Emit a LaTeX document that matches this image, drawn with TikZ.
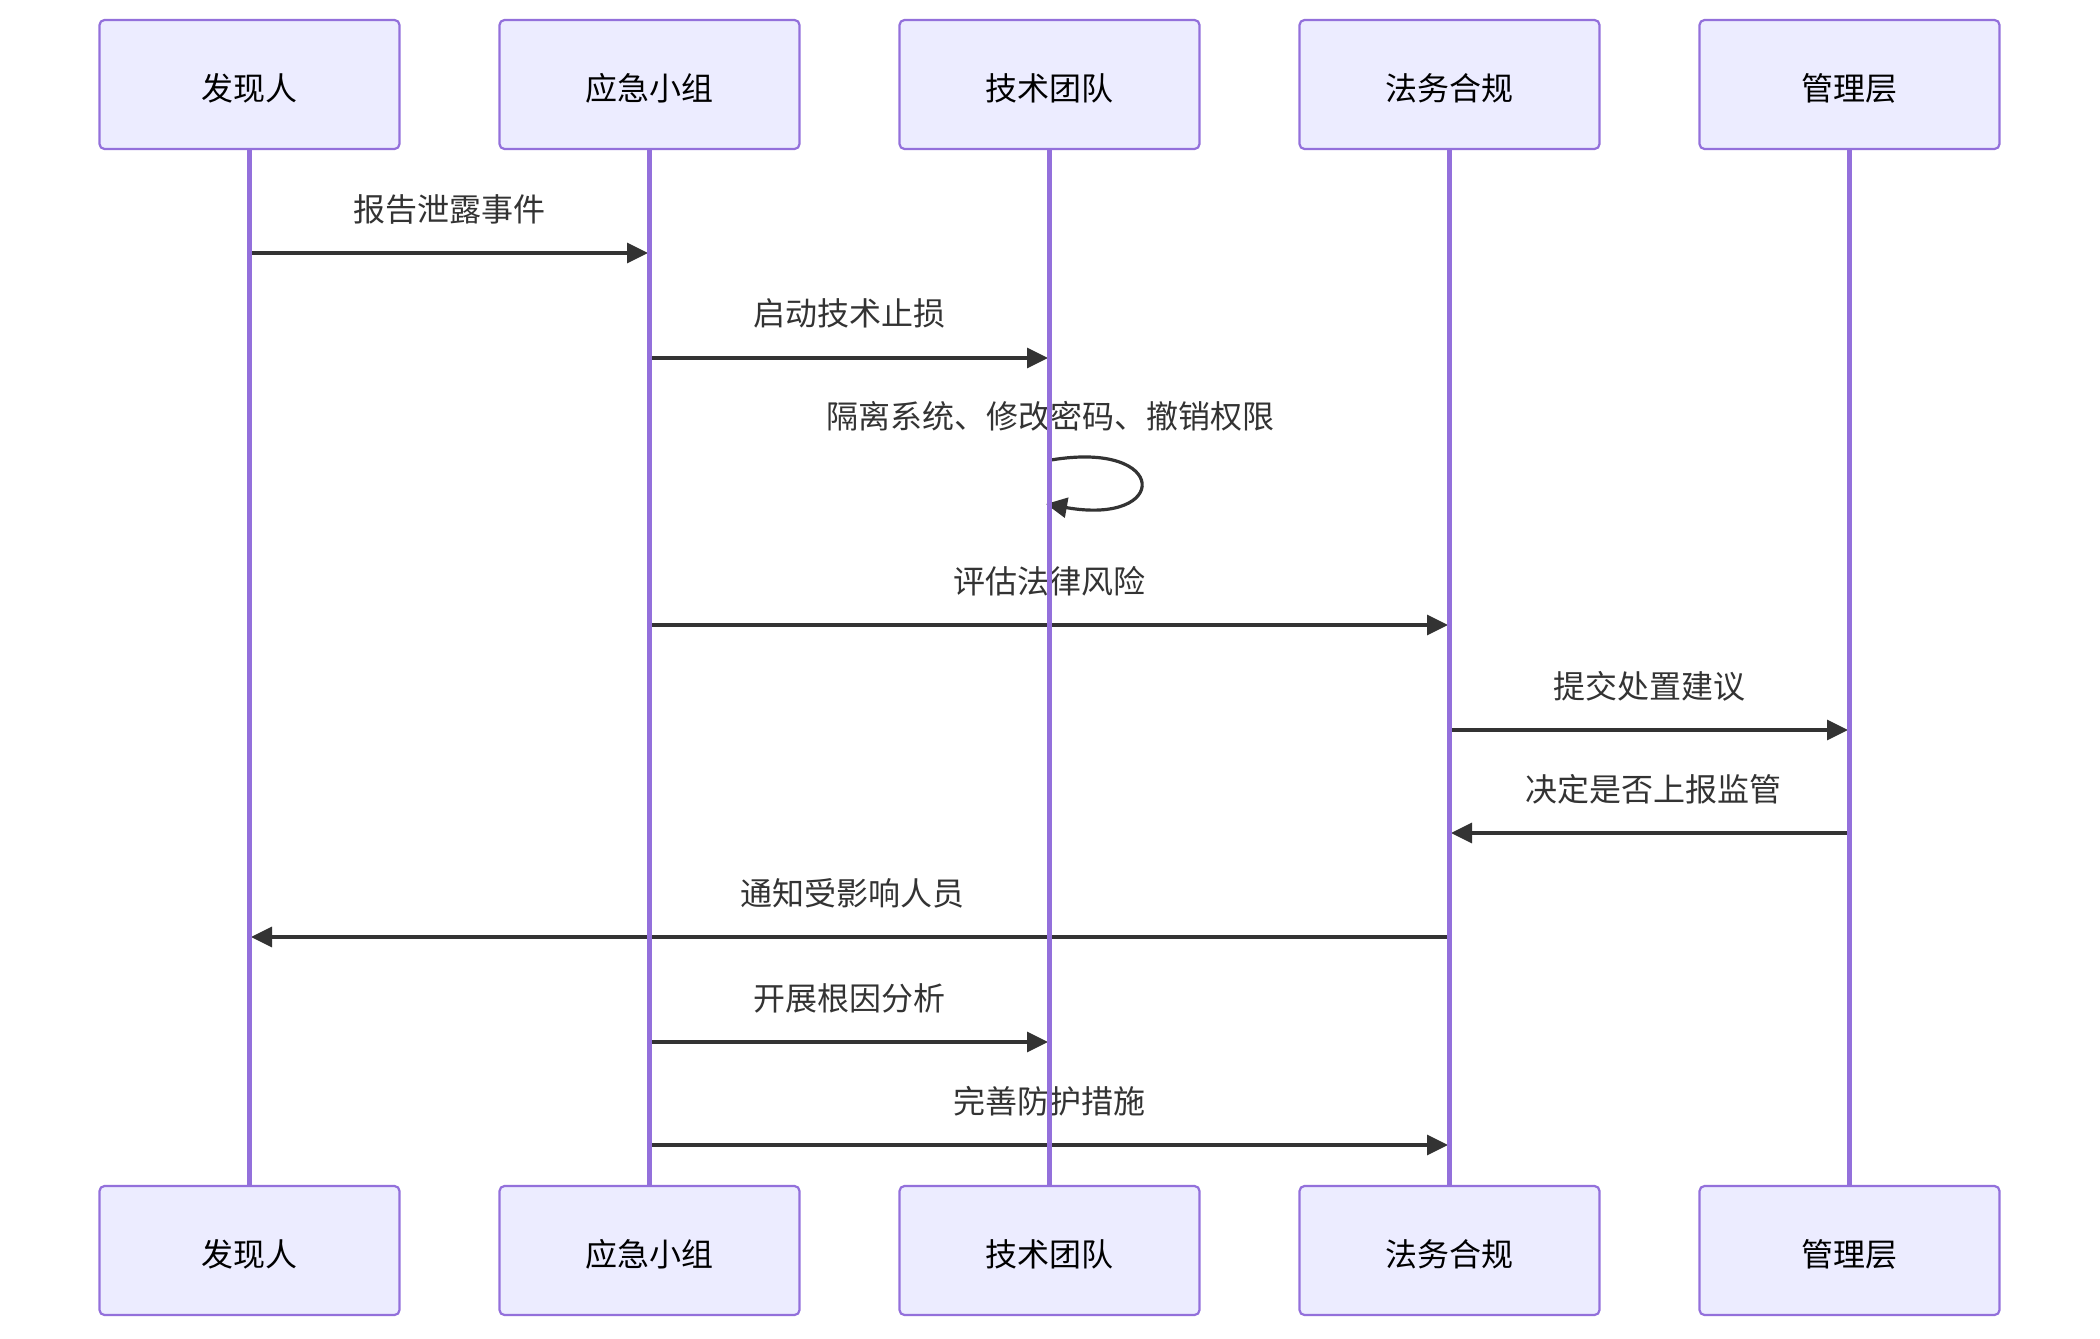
\documentclass[tikz,border=0pt]{standalone}
\usepackage{fontspec}
\setmainfont{Noto Sans CJK SC}
\usetikzlibrary{arrows.meta}
\definecolor{boxfill}{HTML}{ECECFF}
\definecolor{boxline}{HTML}{9370DB}
\definecolor{msgcol}{HTML}{333333}
\newcommand{\acttxt}[1]{\raisebox{-4pt}[\height][\depth]{#1}}
\tikzset{
  actor/.style={draw=boxline, fill=boxfill, line width=2.2pt, rounded corners=5pt,
    minimum width=300pt, minimum height=129pt, inner sep=0pt,
    font=\fontsize{32}{38}\selectfont, text=black},
  life/.style={draw=boxline, line width=4.2pt},
  msg/.style={draw=msgcol, line width=3.2pt, -{Triangle[length=21pt,width=20pt]}},
  lbl/.style={font=\fontsize{32}{38}\selectfont, text=msgcol, inner sep=0pt}
}
\begin{document}
\begin{tikzpicture}[x=1pt,y=-1pt]
\useasboundingbox (0,0) rectangle (2100,1338);
% actors
\node[actor] (tA) at (249.5,84.5) {\acttxt{发现人}};
\node[actor] (tB) at (649.5,84.5) {\acttxt{应急小组}};
\node[actor] (tC) at (1049.5,84.5) {\acttxt{技术团队}};
\node[actor] (tD) at (1449.5,84.5) {\acttxt{法务合规}};
\node[actor] (tE) at (1849.5,84.5) {\acttxt{管理层}};
\node[actor] (bA) at (249.5,1250.5) {\acttxt{发现人}};
\node[actor] (bB) at (649.5,1250.5) {\acttxt{应急小组}};
\node[actor] (bC) at (1049.5,1250.5) {\acttxt{技术团队}};
\node[actor] (bD) at (1449.5,1250.5) {\acttxt{法务合规}};
\node[actor] (bE) at (1849.5,1250.5) {\acttxt{管理层}};
% message coordinates
\coordinate (m1s) at (251,253);   \coordinate (m1e) at (648,253);
\coordinate (m2s) at (651,358);   \coordinate (m2e) at (1048,358);
\coordinate (m3s) at (1051,460);  \coordinate (m3e) at (1046,504);
\coordinate (m4s) at (651,625);   \coordinate (m4e) at (1448,625);
\coordinate (m5s) at (1451,730);  \coordinate (m5e) at (1848,730);
\coordinate (m6s) at (1848,833);  \coordinate (m6e) at (1451,833);
\coordinate (m7s) at (1448,937);  \coordinate (m7e) at (251,937);
\coordinate (m8s) at (651,1042);  \coordinate (m8e) at (1048,1042);
\coordinate (m9s) at (651,1145);  \coordinate (m9e) at (1448,1145);
% labels
\node[lbl] (l1) at (449.5,209) {报告泄露事件};
\node[lbl] (l2) at (849.5,313) {启动技术止损};
\node[lbl] (l3) at (1050,416) {隔离系统、修改密码、撤销权限};
\node[lbl] (l4) at (1049.5,581) {评估法律风险};
\node[lbl] (l5) at (1649.5,686) {提交处置建议};
\node[lbl] (l6) at (1653,789) {决定是否上报监管};
\node[lbl] (l7) at (852,893) {通知受影响人员};
\node[lbl] (l8) at (849.5,998) {开展根因分析};
\node[lbl] (l9) at (1049.5,1101) {完善防护措施};
% messages
\draw[msg] (m1s) -- (m1e);
\draw[msg] (m2s) -- (m2e);
\draw[msg] (m3s) .. controls (1170,440) and (1170,526) .. (m3e);
\draw[msg] (m4s) -- (m4e);
\draw[msg] (m5s) -- (m5e);
\draw[msg] (m6s) -- (m6e);
\draw[msg] (m7s) -- (m7e);
\draw[msg] (m8s) -- (m8e);
\draw[msg] (m9s) -- (m9e);
% lifelines
\draw[life] (tA.south) -- (bA.north);
\draw[life] (tB.south) -- (bB.north);
\draw[life] (tC.south) -- (bC.north);
\draw[life] (tD.south) -- (bD.north);
\draw[life] (tE.south) -- (bE.north);
\end{tikzpicture}
\end{document}
